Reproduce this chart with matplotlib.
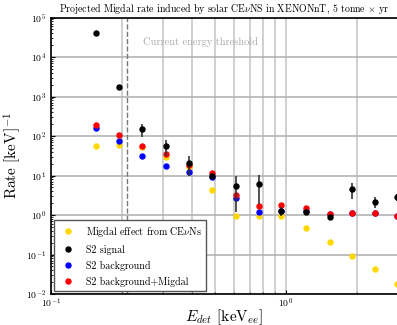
import matplotlib
matplotlib.use("Agg")
import matplotlib.pyplot as plt
import numpy as np

plt.rcParams['font.family'] = ['cmr10', 'DejaVu Serif']
plt.rcParams['mathtext.fontset'] = 'cm'
plt.rcParams['axes.formatter.use_mathtext'] = True

energy = [0.156, 0.195, 0.2445, 0.3086, 0.3866, 0.4858, 0.6125, 0.7676,
          0.955, 1.213, 1.535, 1.914, 2.39, 2.97]
migdal = [55, 58, 53, 30, 16.4, 4.37, 0.96, 0.94, 0.92, 0.47, 0.21, 0.093, 0.042, 0.018]
s2_signal = [41200, 1710, 148, 55, 21, 9.9, 5.5, 6.1, 1.26, 1.22, 0.87, 4.6, 2.13, 2.9]
s2_signal_err = [0, 0, 52, 23, 11, 1.5, 4.3, 4.2, 0.3, 0.2, 0.1, 2.0, 0.65, 0.6]
s2_background = [157, 76, 31, 17.4, 12.3, 9.3, 2.64, 1.17, 1.3, 1.3, 1.04, 1.1, 1.1, 0.96]
s2_bkg_migdal = [188, 106, 57, 35, 19, 11.6, 3.2, 1.69, 1.76, 1.53, 1.04, 1.15, 1.12, 0.97]
threshold = 0.21

fig = plt.figure(figsize=(3.97, 3.25), dpi=100)
ax = fig.add_axes([0.1285, 0.0954, 0.8743, 0.8506])

ax.set_xscale('log')
ax.set_yscale('log')
ax.set_xlim(0.1, 3.0)
ax.set_ylim(1e-2, 1e5)

ax.grid(True, which='major', axis='y', color='#b4b4b4', lw=1.2)
ax.grid(True, which='both', axis='x', color='#c8c8c8', lw=1.2)
ax.set_axisbelow(True)

ms = 3.6
ax.plot(energy, migdal, 'o', color='#FFD700', ms=ms, zorder=3)
ax.plot(energy, s2_background, 'o', color='#0000FF', ms=ms, zorder=4)
ax.plot(energy, s2_bkg_migdal, 'o', color='#FF0000', ms=ms, zorder=5)
ax.errorbar(energy, s2_signal, yerr=s2_signal_err, fmt='o', color='black', ecolor='#333333',
            elinewidth=1.2, capsize=0, ms=ms, zorder=6)

h_m = plt.Line2D([], [], marker='o', ls='', color='#FFD700', ms=ms)
h_s = plt.Line2D([], [], marker='o', ls='', color='black', ms=ms)
h_b = plt.Line2D([], [], marker='o', ls='', color='#0000FF', ms=ms)
h_r = plt.Line2D([], [], marker='o', ls='', color='#FF0000', ms=ms)
leg = ax.legend([h_m, h_s, h_b, h_r],
                [r'Migdal effect from CE$\nu$Ns', 'S2 signal', 'S2 background', 'S2 background+Migdal'],
                loc='lower left', fontsize=7.2, fancybox=False, framealpha=1,
                edgecolor='#555555', borderaxespad=0.3, handletextpad=0.8, labelspacing=0.6)
leg.get_frame().set_linewidth(1.0)

ax.axvline(threshold, color='#777777', ls='--', lw=1.0, zorder=2)
ax.text(0.246, 2.4e4, 'Current energy threshold', color='#aaaaaa', fontsize=7.5,
        ha='left', va='center')

ax.set_title(r'Projected Migdal rate induced by solar CE$\nu$NS in XENONnT, 5 tonne $\times$ yr',
             fontsize=7.1, pad=4)
ax.set_ylabel(r'Rate [keV]$^{-1}$', fontsize=11, labelpad=2)
ax.set_xlabel(r'$E_{det}$ [keV$_{ee}$]', fontsize=11, va='center')
ax.xaxis.set_label_coords(0.5, -0.084)

ax.tick_params(which='both', direction='in', labelsize=7)
ax.tick_params(axis='x', pad=2)
ax.tick_params(which='major', length=3)
ax.tick_params(which='minor', length=1.5)
ax.yaxis.set_major_locator(matplotlib.ticker.LogLocator(base=10, numticks=10))
ax.yaxis.set_minor_locator(matplotlib.ticker.LogLocator(base=10, subs=np.arange(2, 10), numticks=20))
ax.yaxis.set_minor_formatter(matplotlib.ticker.NullFormatter())
ax.xaxis.set_minor_formatter(matplotlib.ticker.NullFormatter())
for s in ax.spines.values():
    s.set_linewidth(1.2)

fig.savefig('out.png', dpi=100)
